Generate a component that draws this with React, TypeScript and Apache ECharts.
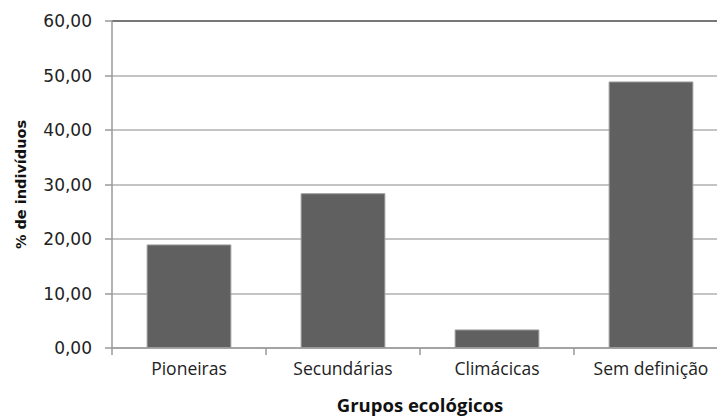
import React, { useEffect, useRef } from "react";
import * as echarts from "echarts";

const categories = ["Pioneiras", "Secundárias", "Climácicas", "Sem definição"];
const values = [19.0, 28.4, 3.4, 48.9];
const yTicks = [0, 10, 20, 30, 40, 50, 60];

export default function App() {
  const ref = useRef<HTMLDivElement>(null);
  useEffect(() => {
    if (!ref.current) return;
    const chart = echarts.init(ref.current, null, { renderer: "svg" });
    chart.setOption({
      animation: false,
      backgroundColor: "#ffffff",
      grid: {
        left: 112,
        top: 21,
        width: 616,
        height: 327,
        containLabel: false,
        outerBoundsMode: "none",
      },
      xAxis: {
        type: "category",
        data: categories,
        boundaryGap: true,
        axisLine: { show: true, lineStyle: { color: "#9a9a9a", width: 1.5 } },
        axisTick: { show: true, length: 7, lineStyle: { color: "#9a9a9a", width: 1.5 } },
        axisLabel: {
          color: "#222",
          fontFamily: "Open Sans",
          fontSize: 17.5,
          margin: 11,
        },
        name: "Grupos ecológicos",
        nameLocation: "middle",
        nameGap: 47,
        nameTextStyle: {
          color: "#111",
          fontFamily: "Open Sans",
          fontWeight: "bold",
          fontSize: 18.5,
        },
      },
      yAxis: {
        type: "value",
        min: yTicks[0],
        max: yTicks[yTicks.length - 1],
        interval: 10,
        axisLine: { show: true, lineStyle: { color: "#9a9a9a", width: 1.5 } },
        axisTick: { show: true, length: 7, lineStyle: { color: "#9a9a9a", width: 1.5 } },
        splitLine: {
          show: true,
          lineStyle: {
            color: ["#b0b0b0", "#b0b0b0", "#b0b0b0", "#b0b0b0", "#b0b0b0", "#b0b0b0", "#4a4a4a"],
            width: 1.5,
          },
        },
        axisLabel: {
          color: "#222",
          fontFamily: "DejaVu Sans",
          fontSize: 17,
          margin: 20,
          formatter: (v: number) => v.toFixed(2).replace(".", ","),
        },
        name: "% de indivíduos",
        nameLocation: "middle",
        nameGap: 84,
        nameRotate: 90,
        nameTextStyle: {
          color: "#111",
          fontFamily: "DejaVu Sans",
          fontWeight: "bold",
          fontSize: 14.5,
        },
      },
      series: [
        {
          type: "bar",
          data: values,
          barWidth: "55%",
          itemStyle: { color: "#606060", borderColor: "#9a9a9a", borderWidth: 1 },
        },
      ],
    });
    return () => chart.dispose();
  }, []);
  return (
    <div
      ref={ref}
      style={{ position: "fixed", left: 0, top: 0, width: 717, height: 416 }}
    />
  );
}
